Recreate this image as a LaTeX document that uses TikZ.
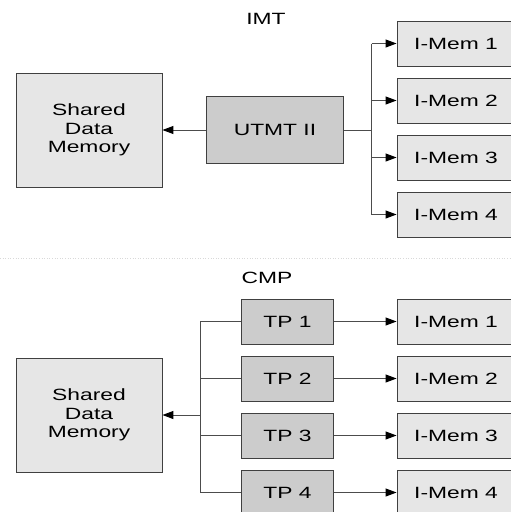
\documentclass[tikz,border=0pt]{standalone}
\usepackage{fontspec}
\newfontfamily\diagfont[FakeStretch=1.4]{Liberation Sans}
\usetikzlibrary{arrows.meta}
\definecolor{lightbox}{HTML}{E6E6E6}
\definecolor{darkbox}{HTML}{CCCCCC}
\begin{document}
\begin{tikzpicture}[x=1pt,y=-1pt,
  every node/.style={font=\diagfont\fontsize{16.3}{18.5}\selectfont, inner sep=0pt},
  lbox/.style={draw=black!75, line width=0.9pt, fill=lightbox, minimum width=146pt, minimum height=114pt, align=center},
  membox/.style={draw=black!75, line width=0.9pt, fill=lightbox, minimum width=118pt, minimum height=45pt},
  tpbox/.style={draw=black!75, line width=0.9pt, fill=darkbox, minimum width=92pt, minimum height=45pt},
  ubox/.style={draw=black!75, line width=0.9pt, fill=darkbox, minimum width=137pt, minimum height=67pt},
  conn/.style={draw=black!70, line width=1pt},
  arr/.style={conn, -{Triangle[length=11pt,width=8pt,color=black]}},
  title/.style={}
]
\useasboundingbox (0,0) rectangle (511,512);
\clip (0,0) rectangle (511,512);
\fill[white] (0,0) rectangle (511,512);

% ---------- IMT ----------
\node[title] (imt) at (266,19) {IMT};
\node[lbox] (sdmA) at (89,130) {Shared\\Data\\Memory};
\node[ubox] (utmt) at (275,130) {UTMT II};
\foreach \i/\y in {1/43.5,2/100.5,3/157.5,4/214.5}{
  \node[membox] (ma\i) at (456,\y) {I-Mem \i};
}
\coordinate (busA) at (371.5,130);
\draw[arr] (utmt.west) -- (sdmA.east);
\draw[conn] (utmt.east) -- (busA);
\draw[conn] (busA |- ma1.west) -- (busA |- ma4.west);
\foreach \i in {1,...,4}{
  \draw[arr] (busA |- ma\i.west) -- (ma\i.west);
}

% separator
\coordinate (sepL) at (0,258);
\coordinate (sepR) at (511,258);
\draw[black!15, line width=0.6pt, dotted] (sepL) -- (sepR);

% ---------- CMP ----------
\node[title] (cmp) at (267,278) {CMP};
\node[lbox] (sdmB) at (89,415) {Shared\\Data\\Memory};
\foreach \i/\y in {1/321.5,2/378.5,3/435.5,4/492.5}{
  \node[tpbox] (tp\i) at (287.5,\y) {TP \i};
  \node[membox] (mb\i) at (456,\y) {I-Mem \i};
}
\coordinate (busB) at (200,415);
\draw[arr] (busB) -- (sdmB.east);
\draw[conn] (busB |- tp1.west) -- (busB |- tp4.west);
\foreach \i in {1,...,4}{
  \draw[conn] (busB |- tp\i.west) -- (tp\i.west);
  \draw[arr] (tp\i.east) -- (mb\i.west);
}
\end{tikzpicture}
\end{document}
